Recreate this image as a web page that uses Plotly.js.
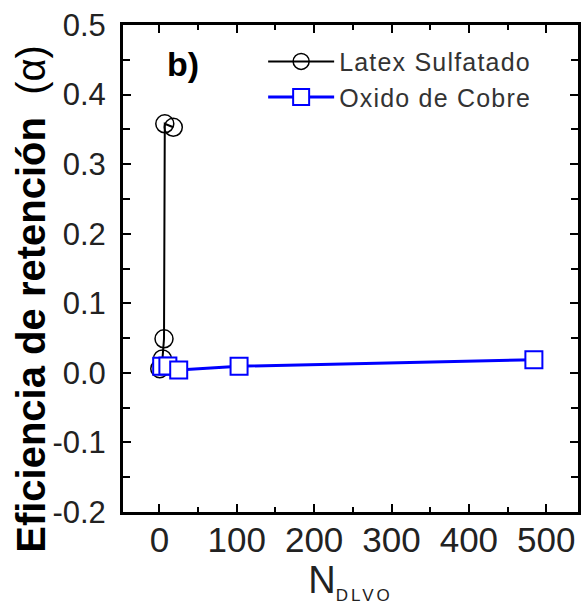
<!DOCTYPE html>
<html>
<head>
<meta charset="utf-8">
<script src="https://cdn.plot.ly/plotly-3.0.1.min.js"></script>
<style>
  html, body { margin: 0; padding: 0; background: #fff; }
  #chart { width: 584px; height: 614px; }
  .legendtext { letter-spacing: 1.2px; }
</style>
</head>
<body>
<div id="chart"></div>
<script>
// Latex Sulfatado (black open circles)
const latexN = [0.5, 4, 6, 7, 18];
const latexAlpha = [0.006, 0.02, 0.049, 0.358, 0.353];

// Oxido de Cobre (blue open squares)
const cobreN = [3, 11, 25, 103, 484];
const cobreAlpha = [0.0095, 0.010, 0.004, 0.0095, 0.019];

const xTickVals = [0, 100, 200, 300, 400, 500];
const yTickVals = [-0.2, -0.1, 0.0, 0.1, 0.2, 0.3, 0.4, 0.5];
const yTickText = ['-0.2', '-0.1', '0.0', '0.1', '0.2', '0.3', '0.4', '0.5'];

const seriesNames = ['Latex Sulfatado', 'Oxido de Cobre'];
const panelLabel = 'b)';
const yTitle = '<b>Eficiencia de retención</b>\u00a0\u00a0(α)';

const FONT = 'Arial, "Liberation Sans", sans-serif';

const traces = [
  {
    x: latexN, y: latexAlpha, name: seriesNames[0],
    type: 'scatter', mode: 'lines+markers',
    line: { color: '#000000', width: 2 },
    marker: { symbol: 'circle-open', size: 18, color: '#000000', line: { width: 1.5, color: '#000000' } },
  },
  {
    x: cobreN, y: cobreAlpha, name: seriesNames[1],
    type: 'scatter', mode: 'lines+markers',
    line: { color: '#0000ff', width: 3 },
    marker: { symbol: 'square', size: 17, color: '#ffffff', line: { width: 2, color: '#0000ff' } },
  }
];

const layout = {
  width: 584, height: 614,
  margin: { l: 123, r: 6, t: 25, b: 102 },
  paper_bgcolor: '#ffffff', plot_bgcolor: '#ffffff',
  font: { family: FONT, color: '#222222' },
  showlegend: true,
  legend: {
    x: 0.308, y: 0.972, xanchor: 'left', yanchor: 'top',
    bgcolor: 'rgba(0,0,0,0)', borderwidth: 0,
    font: { family: FONT, size: 25, color: '#333333' },
    itemwidth: 66, tracegroupgap: 0
  },
  xaxis: {
    range: [-47, 541],
    tickvals: xTickVals,
    ticks: 'inside', ticklen: 8, tickwidth: 2, tickcolor: '#000',
    minor: { dtick: 50, tick0: 0, ticks: 'inside', ticklen: 5, tickwidth: 2, tickcolor: '#000' },
    showline: true, linewidth: 3, linecolor: '#000', mirror: 'ticks',
    showgrid: false, zeroline: false,
    tickfont: { family: FONT, size: 35, color: '#222' },
    ticklabelstandoff: -5,
    title: {
      text: 'N<sub><span style="font-size:17px;letter-spacing:3px">DLVO</span></sub>',
      font: { family: FONT, size: 38, color: '#222' },
      standoff: 0
    },
    automargin: false
  },
  yaxis: {
    range: [-0.2, 0.5],
    tickvals: yTickVals, ticktext: yTickText,
    ticks: 'inside', ticklen: 8, tickwidth: 2, tickcolor: '#000',
    minor: { dtick: 0.05, tick0: 0, ticks: 'inside', ticklen: 7, tickwidth: 2, tickcolor: '#000' },
    showline: true, linewidth: 3, linecolor: '#000', mirror: 'ticks',
    showgrid: false, zeroline: false,
    tickfont: { family: FONT, size: 31, color: '#222' },
    ticklabelstandoff: 8,
    automargin: false
  },
  annotations: [
    {
      text: '<b>' + panelLabel + '</b>', xref: 'paper', yref: 'paper',
      x: 0.132, y: 0.92, xanchor: 'center', yanchor: 'middle',
      showarrow: false, font: { family: FONT, size: 34, color: '#000' }
    },
    {
      text: yTitle, xref: 'paper', yref: 'paper',
      x: -0.202, y: 0.438, xanchor: 'center', yanchor: 'middle',
      textangle: -90, showarrow: false,
      font: { family: FONT, size: 40, color: '#000' }
    }
  ]
};

Plotly.newPlot('chart', traces, layout, { displayModeBar: false, staticPlot: true });
</script>
</body>
</html>
